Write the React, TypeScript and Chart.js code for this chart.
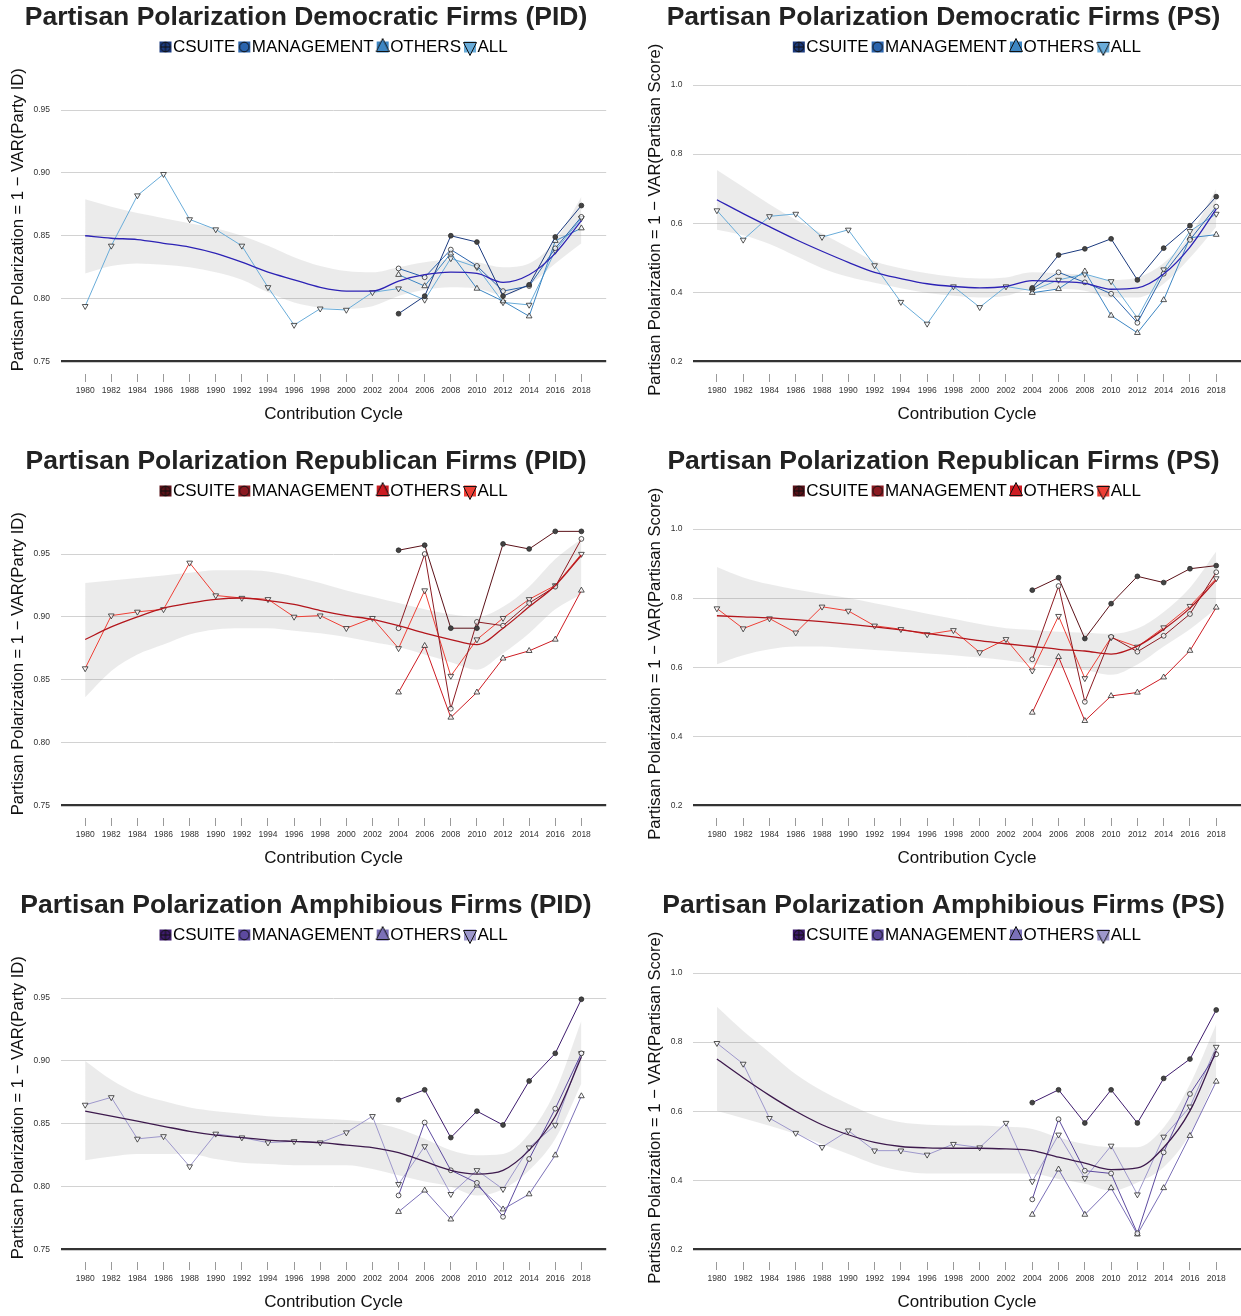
import React, { useEffect, useRef } from 'react';
import { Chart, registerables } from 'chart.js';

Chart.register(...registerables);

const FONT = '"Liberation Sans", Arial, Helvetica, sans-serif';
Chart.defaults.font.family = FONT;

// ---------- axes ----------
const YEARS = [1980, 1982, 1984, 1986, 1988, 1990, 1992, 1994, 1996, 1998, 2000, 2002, 2004, 2006, 2008, 2010, 2012, 2014, 2016, 2018];
const RECENT_YEARS = [2004, 2006, 2008, 2010, 2012, 2014, 2016, 2018];
const SERIES_NAMES = ['CSUITE', 'MANAGEMENT', 'OTHERS', 'ALL'];
const PID_TICKS = [0.75, 0.8, 0.85, 0.9, 0.95];
const PS_TICKS = [0.2, 0.4, 0.6, 0.8, 1.0];

// ---------- Democratic firms (PID) ----------
const DEM_PID_ALL = [0.794, 0.842, 0.882, 0.899, 0.863, 0.855, 0.842, 0.809, 0.779, 0.792, 0.791, 0.805, 0.808, 0.799, 0.832, 0.825, 0.797, 0.795, 0.838, 0.864];
const DEM_PID_CSUITE = [0.788, 0.802, 0.850, 0.845, 0.802, 0.811, 0.849, 0.874];
const DEM_PID_MANAGEMENT = [0.824, 0.817, 0.839, 0.826, 0.806, 0.810, 0.840, 0.865];
const DEM_PID_OTHERS = [0.819, 0.810, 0.836, 0.808, 0.798, 0.786, 0.846, 0.856];
const DEM_PID_TREND = [0.850, 0.848, 0.847, 0.844, 0.841, 0.836, 0.829, 0.821, 0.815, 0.809, 0.806, 0.806, 0.814, 0.819, 0.821, 0.820, 0.813, 0.819, 0.836, 0.862];
const DEM_PID_UPPER = [0.879, 0.873, 0.868, 0.864, 0.860, 0.856, 0.850, 0.842, 0.833, 0.826, 0.822, 0.821, 0.825, 0.829, 0.831, 0.829, 0.825, 0.828, 0.846, 0.881];
const DEM_PID_LOWER = [0.820, 0.826, 0.828, 0.827, 0.825, 0.821, 0.815, 0.805, 0.797, 0.793, 0.792, 0.794, 0.802, 0.807, 0.809, 0.808, 0.803, 0.811, 0.828, 0.844];

// ---------- Democratic firms (PS) ----------
const DEM_PS_ALL = [0.637, 0.552, 0.620, 0.627, 0.560, 0.581, 0.478, 0.372, 0.309, 0.417, 0.357, 0.417, 0.405, 0.436, 0.453, 0.432, 0.326, 0.466, 0.577, 0.627];
const DEM_PS_CSUITE = [0.413, 0.508, 0.526, 0.555, 0.436, 0.528, 0.593, 0.677];
const DEM_PS_MANAGEMENT = [0.410, 0.458, 0.429, 0.396, 0.312, 0.454, 0.552, 0.648];
const DEM_PS_OTHERS = [0.399, 0.410, 0.461, 0.333, 0.283, 0.378, 0.558, 0.567];
const DEM_PS_TREND = [0.668, 0.628, 0.590, 0.553, 0.519, 0.487, 0.458, 0.440, 0.425, 0.417, 0.413, 0.417, 0.434, 0.431, 0.426, 0.409, 0.413, 0.453, 0.531, 0.641];
const DEM_PS_UPPER = [0.754, 0.705, 0.655, 0.610, 0.570, 0.530, 0.490, 0.470, 0.455, 0.445, 0.440, 0.443, 0.458, 0.455, 0.450, 0.436, 0.443, 0.485, 0.565, 0.700];
const DEM_PS_LOWER = [0.581, 0.565, 0.540, 0.505, 0.470, 0.445, 0.428, 0.412, 0.398, 0.390, 0.385, 0.390, 0.410, 0.410, 0.405, 0.385, 0.385, 0.425, 0.500, 0.590];

// ---------- Republican firms (PID) ----------
const REP_PID_ALL = [0.859, 0.901, 0.904, 0.906, 0.943, 0.917, 0.915, 0.914, 0.900, 0.901, 0.891, 0.899, 0.875, 0.921, 0.853, 0.882, 0.899, 0.914, 0.925, 0.950];
const REP_PID_CSUITE = [0.953, 0.957, 0.891, 0.891, 0.958, 0.954, 0.968, 0.968];
const REP_PID_MANAGEMENT = [0.891, 0.950, 0.827, 0.896, 0.893, 0.911, 0.924, 0.962];
const REP_PID_OTHERS = [0.840, 0.877, 0.820, 0.840, 0.867, 0.873, 0.882, 0.921];
const REP_PID_TREND = [0.882, 0.892, 0.900, 0.907, 0.911, 0.914, 0.915, 0.913, 0.910, 0.905, 0.901, 0.898, 0.893, 0.887, 0.882, 0.878, 0.891, 0.908, 0.925, 0.949];
const REP_PID_UPPER = [0.927, 0.929, 0.931, 0.933, 0.935, 0.937, 0.937, 0.936, 0.932, 0.927, 0.921, 0.916, 0.911, 0.906, 0.902, 0.900, 0.908, 0.924, 0.946, 0.962];
const REP_PID_LOWER = [0.836, 0.857, 0.870, 0.878, 0.886, 0.890, 0.891, 0.891, 0.889, 0.887, 0.884, 0.880, 0.876, 0.870, 0.864, 0.858, 0.871, 0.887, 0.906, 0.918];

// ---------- Republican firms (PS) ----------
const REP_PS_ALL = [0.770, 0.712, 0.741, 0.700, 0.775, 0.763, 0.720, 0.710, 0.695, 0.707, 0.643, 0.681, 0.590, 0.748, 0.568, 0.686, 0.659, 0.715, 0.777, 0.857];
const REP_PS_CSUITE = [0.823, 0.859, 0.683, 0.784, 0.863, 0.845, 0.885, 0.894];
const REP_PS_MANAGEMENT = [0.623, 0.835, 0.500, 0.688, 0.645, 0.691, 0.754, 0.875];
const REP_PS_OTHERS = [0.469, 0.630, 0.445, 0.517, 0.527, 0.571, 0.648, 0.773];
const REP_PS_TREND = [0.749, 0.746, 0.743, 0.738, 0.732, 0.725, 0.717, 0.708, 0.698, 0.688, 0.677, 0.668, 0.660, 0.652, 0.647, 0.638, 0.661, 0.710, 0.771, 0.852];
const REP_PS_UPPER = [0.890, 0.860, 0.840, 0.825, 0.812, 0.800, 0.785, 0.770, 0.755, 0.740, 0.725, 0.713, 0.708, 0.703, 0.700, 0.697, 0.712, 0.760, 0.830, 0.935];
const REP_PS_LOWER = [0.609, 0.635, 0.652, 0.660, 0.660, 0.655, 0.650, 0.645, 0.640, 0.635, 0.628, 0.620, 0.610, 0.600, 0.592, 0.578, 0.608, 0.660, 0.710, 0.770];

// ---------- Amphibious firms (PID) ----------
const AMP_PID_ALL = [0.865, 0.871, 0.838, 0.840, 0.816, 0.842, 0.839, 0.835, 0.836, 0.835, 0.843, 0.856, 0.802, 0.832, 0.794, 0.813, 0.798, 0.831, 0.849, 0.906];
const AMP_PID_CSUITE = [0.869, 0.877, 0.839, 0.860, 0.849, 0.884, 0.906, 0.949];
const AMP_PID_MANAGEMENT = [0.793, 0.851, 0.813, 0.803, 0.776, 0.822, 0.862, 0.906];
const AMP_PID_OTHERS = [0.780, 0.797, 0.774, 0.801, 0.782, 0.794, 0.825, 0.872];
const AMP_PID_TREND = [0.860, 0.856, 0.852, 0.848, 0.844, 0.841, 0.839, 0.837, 0.836, 0.835, 0.833, 0.831, 0.827, 0.820, 0.813, 0.810, 0.813, 0.829, 0.856, 0.903];
const AMP_PID_UPPER = [0.900, 0.885, 0.874, 0.868, 0.863, 0.860, 0.858, 0.856, 0.855, 0.854, 0.853, 0.851, 0.846, 0.838, 0.829, 0.825, 0.826, 0.842, 0.876, 0.932];
const AMP_PID_LOWER = [0.821, 0.824, 0.826, 0.826, 0.826, 0.822, 0.819, 0.818, 0.817, 0.817, 0.817, 0.814, 0.809, 0.804, 0.800, 0.793, 0.798, 0.813, 0.838, 0.882];

// ---------- Amphibious firms (PS) ----------
const AMP_PS_ALL = [0.797, 0.737, 0.580, 0.537, 0.496, 0.544, 0.486, 0.486, 0.474, 0.505, 0.495, 0.566, 0.397, 0.532, 0.406, 0.500, 0.359, 0.526, 0.613, 0.786];
const AMP_PS_CSUITE = [0.625, 0.662, 0.566, 0.662, 0.566, 0.695, 0.751, 0.893];
const AMP_PS_MANAGEMENT = [0.345, 0.577, 0.428, 0.420, 0.247, 0.481, 0.650, 0.765];
const AMP_PS_OTHERS = [0.301, 0.432, 0.301, 0.378, 0.244, 0.378, 0.529, 0.686];
const AMP_PS_TREND = [0.751, 0.697, 0.646, 0.600, 0.561, 0.532, 0.510, 0.498, 0.494, 0.493, 0.493, 0.491, 0.486, 0.467, 0.450, 0.431, 0.436, 0.495, 0.601, 0.775];
const AMP_PS_UPPER = [0.902, 0.832, 0.770, 0.707, 0.659, 0.621, 0.588, 0.568, 0.561, 0.559, 0.559, 0.555, 0.549, 0.524, 0.505, 0.496, 0.496, 0.553, 0.678, 0.852];
const AMP_PS_LOWER = [0.601, 0.580, 0.558, 0.534, 0.505, 0.476, 0.447, 0.428, 0.420, 0.420, 0.420, 0.420, 0.419, 0.404, 0.390, 0.370, 0.394, 0.438, 0.534, 0.698];

// ---------- colours ----------
const DEM_COLORS = ['#1b3a7e', '#2a64ad', '#3d86c3', '#69acd9'];
const REP_COLORS = ['#5b1118', '#8c1a21', '#cd1b22', '#ee3f35'];
const AMP_COLORS = ['#3e1b6d', '#5d4a9f', '#7b70b7', '#9d97cb'];
const DEM_TREND_COLOR = '#2c22b5';
const REP_TREND_COLOR = '#b3161c';
const AMP_TREND_COLOR = '#3d1a4d';

type PanelCfg = {
  title: string; kind: 'PID' | 'PS'; col: number; row: number;
  csuite: number[]; mgmt: number[]; others: number[]; all: number[];
  trend: number[]; upper: number[]; lower: number[];
  colors: string[]; trendColor: string;
};

const PANELS: PanelCfg[] = [
  { title: 'Partisan Polarization Democratic Firms (PID)', kind: 'PID', col: 0, row: 0, csuite: DEM_PID_CSUITE, mgmt: DEM_PID_MANAGEMENT, others: DEM_PID_OTHERS, all: DEM_PID_ALL, trend: DEM_PID_TREND, upper: DEM_PID_UPPER, lower: DEM_PID_LOWER, colors: DEM_COLORS, trendColor: DEM_TREND_COLOR },
  { title: 'Partisan Polarization Democratic Firms (PS)', kind: 'PS', col: 1, row: 0, csuite: DEM_PS_CSUITE, mgmt: DEM_PS_MANAGEMENT, others: DEM_PS_OTHERS, all: DEM_PS_ALL, trend: DEM_PS_TREND, upper: DEM_PS_UPPER, lower: DEM_PS_LOWER, colors: DEM_COLORS, trendColor: DEM_TREND_COLOR },
  { title: 'Partisan Polarization Republican Firms (PID)', kind: 'PID', col: 0, row: 1, csuite: REP_PID_CSUITE, mgmt: REP_PID_MANAGEMENT, others: REP_PID_OTHERS, all: REP_PID_ALL, trend: REP_PID_TREND, upper: REP_PID_UPPER, lower: REP_PID_LOWER, colors: REP_COLORS, trendColor: REP_TREND_COLOR },
  { title: 'Partisan Polarization Republican Firms (PS)', kind: 'PS', col: 1, row: 1, csuite: REP_PS_CSUITE, mgmt: REP_PS_MANAGEMENT, others: REP_PS_OTHERS, all: REP_PS_ALL, trend: REP_PS_TREND, upper: REP_PS_UPPER, lower: REP_PS_LOWER, colors: REP_COLORS, trendColor: REP_TREND_COLOR },
  { title: 'Partisan Polarization Amphibious Firms (PID)', kind: 'PID', col: 0, row: 2, csuite: AMP_PID_CSUITE, mgmt: AMP_PID_MANAGEMENT, others: AMP_PID_OTHERS, all: AMP_PID_ALL, trend: AMP_PID_TREND, upper: AMP_PID_UPPER, lower: AMP_PID_LOWER, colors: AMP_COLORS, trendColor: AMP_TREND_COLOR },
  { title: 'Partisan Polarization Amphibious Firms (PS)', kind: 'PS', col: 1, row: 2, csuite: AMP_PS_CSUITE, mgmt: AMP_PS_MANAGEMENT, others: AMP_PS_OTHERS, all: AMP_PS_ALL, trend: AMP_PS_TREND, upper: AMP_PS_UPPER, lower: AMP_PS_LOWER, colors: AMP_COLORS, trendColor: AMP_TREND_COLOR },
];

const PANEL_H = 428;
const ROW_STEP = 444;

function makeKey(kind: number, color: string): HTMLCanvasElement {
  const c = document.createElement('canvas');
  c.width = 21;
  c.height = 20;
  const g = c.getContext('2d')!;
  g.fillStyle = color;
  g.fillRect(8, 4.5, 12, 11);
  g.lineWidth = 1;
  g.strokeStyle = '#111';
  g.beginPath();
  if (kind === 0 || kind === 1) {
    g.arc(14, 10, 4.8, 0, Math.PI * 2);
    g.fill();
    g.stroke();
    if (kind === 0) {
      g.beginPath();
      g.moveTo(14, 5.2); g.lineTo(14, 14.8);
      g.moveTo(9.2, 10); g.lineTo(18.8, 10);
      g.stroke();
    }
  } else if (kind === 2) {
    g.moveTo(14, 1.5); g.lineTo(20.5, 14.5); g.lineTo(7.5, 14.5); g.closePath();
    g.fill(); g.stroke();
  } else {
    g.moveTo(7.5, 5.5); g.lineTo(20.5, 5.5); g.lineTo(14, 18.5); g.closePath();
    g.fill(); g.stroke();
  }
  return c;
}

function buildConfig(p: PanelCfg): any {
  const isLeft = p.col === 0;
  const isPID = p.kind === 'PID';
  const yTicks = isPID ? PID_TICKS : PS_TICKS;
  const yMin = isPID ? 0.74006 : 0.16383;
  const yMax = isPID ? 0.98539 : 1.05642;
  const base = yTicks[0];
  const toPts = (xs: number[], ys: number[]) => xs.map((x, i) => ({ x, y: ys[i] }));
  const keys = p.colors.map((c, i) => makeKey(i, c));
  const seriesVals = [p.csuite, p.mgmt, p.others, p.all];
  const pointStyles = ['circle', 'circle', 'triangle', 'triangle'];
  const pointRadii = [2.4, 2.4, 3.3, 3.3];
  const pointFills = ['#444', 'rgba(255,255,255,0.75)', 'rgba(255,255,255,0.75)', 'rgba(255,255,255,0.75)'];
  const pointRot = [0, 0, 0, 180];

  const seriesSets = SERIES_NAMES.map((name, i) => ({
    label: name,
    data: toPts(i === 3 ? YEARS : RECENT_YEARS, seriesVals[i]),
    borderColor: p.colors[i],
    borderWidth: 1,
    pointStyle: pointStyles[i],
    pointRadius: pointRadii[i],
    pointRotation: pointRot[i],
    pointBackgroundColor: pointFills[i],
    pointBorderColor: '#2a2a2a',
    pointBorderWidth: 0.8,
    tension: 0,
    fill: false,
    order: i + 1,
  }));

  return {
    type: 'line',
    data: {
      datasets: [
        {
          label: 'upper', data: toPts(YEARS, p.upper), borderColor: 'rgba(0,0,0,0)', borderWidth: 0,
          pointRadius: 0, fill: '+1', backgroundColor: 'rgba(150,150,150,0.19)',
          cubicInterpolationMode: 'monotone', order: 20,
        },
        {
          label: 'lower', data: toPts(YEARS, p.lower), borderColor: 'rgba(0,0,0,0)', borderWidth: 0,
          pointRadius: 0, fill: false, cubicInterpolationMode: 'monotone', order: 19,
        },
        {
          label: 'trend', data: toPts(YEARS, p.trend), borderColor: p.trendColor, borderWidth: 1.3,
          pointRadius: 0, fill: false, cubicInterpolationMode: 'monotone', order: 0,
        },
        ...seriesSets,
      ],
    },
    options: {
      responsive: false,
      animation: false,
      events: [],
      layout: { padding: { left: isLeft ? 1 : 0, right: 0, top: 0, bottom: 0 } },
      plugins: {
        tooltip: { enabled: false },
        title: {
          display: true,
          text: p.title,
          color: '#222',
          font: { size: 26.5, weight: 'bold', family: FONT, lineHeight: 1.2 },
          padding: { top: 2.1, bottom: 1.6 },
        },
        legend: {
          display: true,
          position: 'top',
          fullSize: false,
          labels: {
            usePointStyle: true,
            pointStyleWidth: 5,
            padding: 3,
            color: '#1a1a1a',
            font: { size: 17, family: FONT },
            generateLabels: () => SERIES_NAMES.map((name, i) => ({
              text: name,
              pointStyle: keys[i],
              fillStyle: p.colors[i],
              strokeStyle: '#111',
              lineWidth: 0,
              hidden: false,
              datasetIndex: 3 + i,
            })),
          },
        },
      },
      scales: {
        x: {
          type: 'linear',
          min: 1978.15,
          max: 2019.9,
          afterBuildTicks: (s: any) => { s.ticks = YEARS.map((v) => ({ value: v })); },
          afterFit: (s: any) => { s.height = 54; },
          grid: { drawOnChartArea: false, drawTicks: true, tickLength: 8, color: '#9a9a9a', lineWidth: 1 },
          border: { display: false },
          ticks: {
            autoSkip: false, maxRotation: 0, minRotation: 0, padding: 4,
            color: '#333', font: { size: 8.5, family: FONT },
            callback: (v: any) => String(v),
          },
          title: {
            display: true, text: 'Contribution Cycle', color: '#111',
            font: { size: 17, family: FONT, lineHeight: 1.2 },
            padding: { top: 0, bottom: 3.8 },
          },
        },
        y: {
          type: 'linear',
          min: yMin,
          max: yMax,
          afterBuildTicks: (s: any) => { s.ticks = yTicks.map((v) => ({ value: v })); },
          afterFit: (s: any) => { s.width = isLeft ? 60 : 51.6; },
          grid: {
            drawTicks: false,
            color: (ctx: any) => (ctx.tick && Math.abs(ctx.tick.value - base) < 1e-9 ? '#333333' : '#d2d2d2'),
            lineWidth: (ctx: any) => (ctx.tick && Math.abs(ctx.tick.value - base) < 1e-9 ? 2.2 : 1),
          },
          border: { display: false },
          ticks: {
            padding: isLeft ? 11 : 10,
            color: '#333',
            font: { size: 8.5, family: FONT },
            callback: (v: any) => Number(v).toFixed(isPID ? 2 : 1),
          },
          title: {
            display: true,
            text: isPID ? 'Partisan Polarization = 1 \u2212 VAR(Party ID)' : 'Partisan Polarization = 1 \u2212 VAR(Partisan Score)',
            color: '#111',
            font: { size: 16.6, family: FONT, lineHeight: 1.2 },
            padding: { top: isLeft ? 7 : 4, bottom: 0 },
          },
        },
      },
    },
  };
}

function Panel({ cfg }: { cfg: PanelCfg }) {
  const ref = useRef<HTMLCanvasElement>(null);
  const left = cfg.col === 0 ? 0 : 641;
  const width = cfg.col === 0 ? 611 : 605;
  useEffect(() => {
    if (!ref.current) return;
    const chart = new Chart(ref.current, buildConfig(cfg));
    return () => chart.destroy();
  }, [cfg]);
  return (
    <div style={{ position: 'absolute', left, top: cfg.row * ROW_STEP, width, height: PANEL_H }}>
      <canvas ref={ref} width={width} height={PANEL_H} style={{ display: 'block', width, height: PANEL_H }} />
    </div>
  );
}

export default function App() {
  return (
    <div style={{ position: 'absolute', left: 0, top: 0, width: 1241, height: 1316, overflow: 'hidden', background: '#fff' }}>
      {PANELS.map((p, i) => <Panel key={i} cfg={p} />)}
    </div>
  );
}
